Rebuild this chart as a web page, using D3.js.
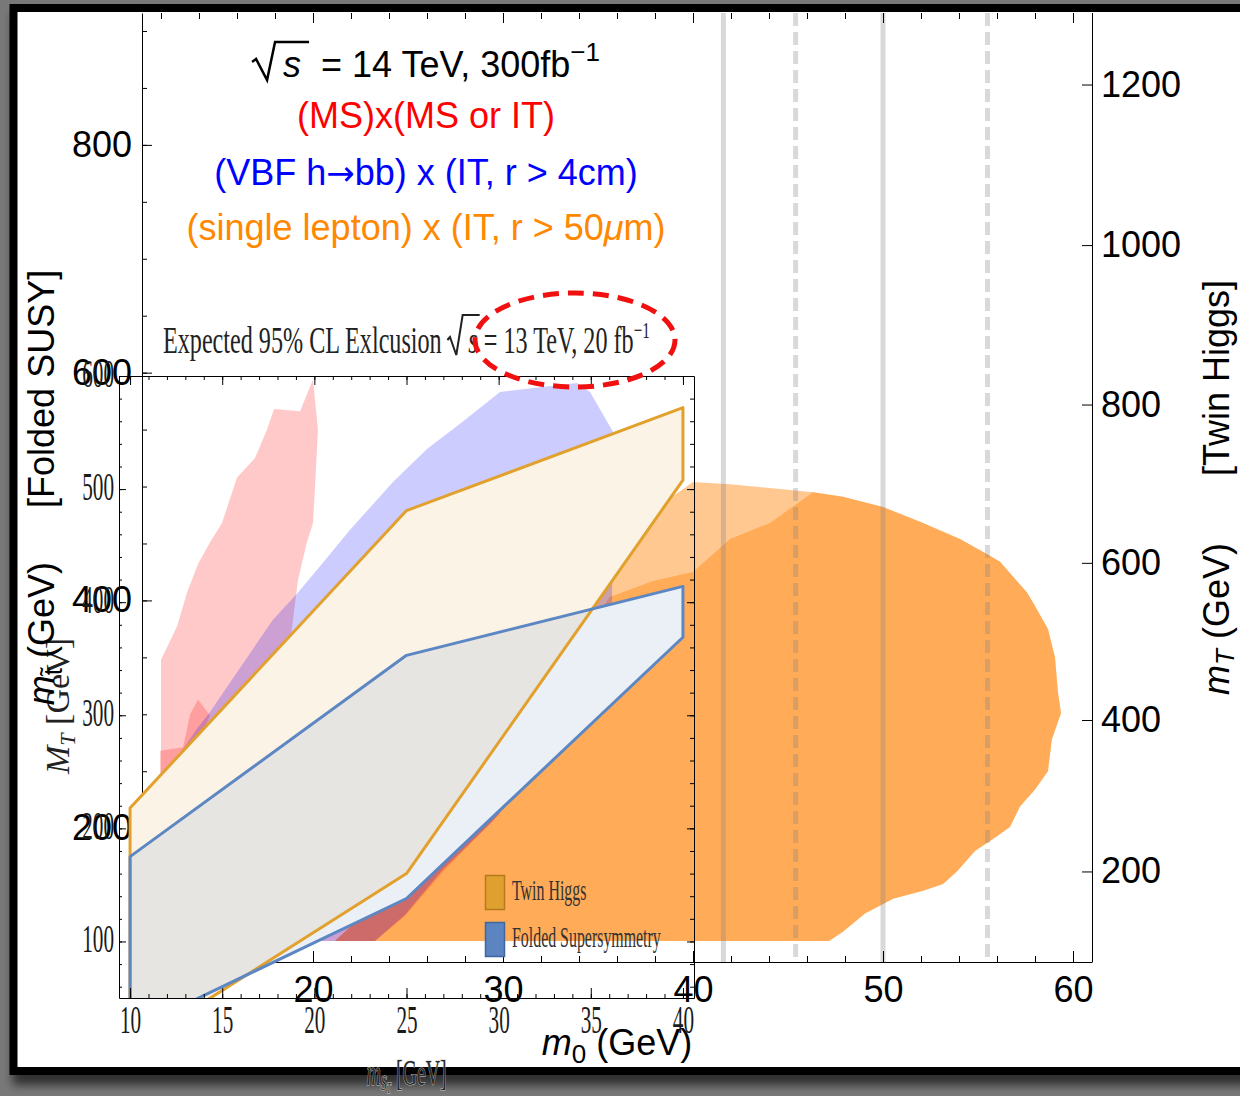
<!DOCTYPE html>
<html>
<head>
<meta charset="utf-8">
<script src="https://cdn.jsdelivr.net/npm/d3@7"></script>
<style>
  html, body { margin: 0; padding: 0; background: #787878; }
  svg { display: block; }
</style>
</head>
<body>
<svg id="chart" width="1240" height="1096"></svg>
<script>
// ---------------- data ----------------
// main panel: m0 (GeV) against the folded-stop mass (left) / twin-top mass (right)
const m0Ticks    = [20, 30, 40, 50, 60];
const stopTicks  = [200, 400, 600, 800];
const twinTicks  = [200, 400, 600, 800, 1000, 1200];
// folded-stop mass that lines up with each twin-top tick
const twinAsStop = [162, 295, 433, 572, 712, 853];

// (MS)x(MS or IT) reach, [m0, m_stop]
const msRegion = [[12.0,101],[12.0,348],[12.84,377],[13.37,407],[13.95,432],[14.58,451],[15.21,468],
  [16.0,508],[16.95,525],[17.58,550],[17.95,568],[19.32,566],[20.0,594],[20.26,550],[20.11,500],
  [20.0,468],[19.68,451],[19.21,418],[18.95,383],[18.68,348],[19.32,313],[25.63,261],[29.84,213],
  [26.84,162],[24.84,123],[23.26,101]];
const msCore = [[11.95,268],[13.16,271],[13.53,300],[13.95,313],[14.58,299],[14.16,283],[13.53,256],[11.95,234]];

// (VBF h->bb) x (IT, r > 4cm) reach
const vbfRegion = [[12.21,247],[13.89,287],[14.58,302],[16.0,337],[17.89,383],[19.21,407],[20.37,430],
  [21.95,462],[24.21,504],[26.0,533],[27.89,557],[29.84,583],[33.89,591],[34.58,583],[35.79,548],
  [35.74,401],[35.11,313],[33.0,268],[30.89,233],[29.32,204],[26.84,164],[24.84,124],[23.26,101],[12.21,101]];

// (single lepton) x (IT, r > 50um) reach: outer contour and inner core
const leptonRegion = [[21.16,101],[47.16,101],[47.89,109],[49.05,125],[50.53,138],[52.11,145],[53.16,151],
  [53.89,162],[54.84,180],[56.0,193],[56.68,201],[57.21,219],[58.0,234],[58.68,250],[58.89,278],[59.16,291],
  [59.37,301],[59.21,319],[59.05,350],[58.68,375],[58.0,395],[57.58,407],[56.16,434],[55.53,440],[54.05,454],
  [51.95,469],[50.0,482],[47.89,491],[46.32,495],[43.89,499],[41.95,502],[40.0,504],[37.21,471],[35.11,427],
  [33.0,366],[30.89,296],[27.21,208],[23.53,138]];
const leptonCore = [[21.16,101],[47.16,101],[47.89,109],[49.05,125],[50.53,138],[52.11,145],[53.16,151],
  [53.89,162],[54.84,180],[56.0,193],[56.68,201],[57.21,219],[58.0,234],[58.68,250],[58.89,278],[59.16,291],
  [59.37,301],[59.21,319],[59.05,350],[58.68,375],[58.0,395],[57.58,407],[56.16,434],[55.53,440],[54.05,454],
  [51.95,469],[50.0,482],[47.89,491],[46.32,495],[44.05,468],[41.95,454],[40.0,425],[37.89,417],[35.63,403],
  [34.05,366],[30.89,296],[27.21,208],[23.53,138]];

// vertical reference masses (GeV)
const refLines  = [41.6, 45.4, 50.0, 55.5];
const refDashed = [false, true, false, true];

// 13 TeV, 20 fb^-1 panel: m_S (GeV) against M_T (GeV)
const insetXTicks = [10, 15, 20, 25, 30, 35, 40];
const insetYTicks = [100, 200, 300, 400, 500, 600];
const twinHiggs13  = [[10,218],[25,481],[40,572],[40,508],[25,160],[10,5]];
const foldedSusy13 = [[10,175],[25,353],[40,414],[40,369],[25,138],[10,21]];
const legendLabels = ["Twin Higgs", "Folded Supersymmetry"];

// ---------------- setup ----------------
const SANS  = "'Liberation Sans', Arial, Helvetica, sans-serif";
const SERIF = "'Liberation Serif', 'Times New Roman', serif";
const W = 1240, H = 1096;
const svg = d3.select("#chart");
const defs = svg.append("defs");

const shadow = defs.append("filter").attr("id", "frameShadow")
  .attr("x", "-5%").attr("y", "-5%").attr("width", "115%").attr("height", "115%");
shadow.append("feDropShadow").attr("dx", 3).attr("dy", 10).attr("stdDeviation", 5)
  .attr("flood-color", "#000").attr("flood-opacity", 0.6);

svg.append("rect").attr("width", W).attr("height", H).attr("fill", "#787878");
svg.append("rect").attr("x", 13.5).attr("y", 8).attr("width", 1320).attr("height", 1063)
  .attr("fill", "#fff").attr("stroke", "#000").attr("stroke-width", 8)
  .attr("filter", "url(#frameShadow)");

// ---------------- main panel ----------------
const M = { left: 142, right: 1092, top: 13, bottom: 962 };
const x  = d3.scaleLinear().domain([11, 61]).range([M.left, M.right]);
const yL = d3.scaleLinear().domain([82.5, 915.8]).range([M.bottom, M.top]);
const yR = d3.scaleLinear().domain(twinTicks).range(twinAsStop.map(v => yL(v)));
const intFmt = d3.format("d");

defs.append("clipPath").attr("id", "mainClip").append("rect")
  .attr("x", M.left).attr("y", M.top).attr("width", M.right - M.left).attr("height", M.bottom - M.top);

const gMain = svg.append("g");
const gReg = gMain.append("g").attr("clip-path", "url(#mainClip)");
const shape = d3.line().x(d => x(d[0])).y(d => yL(d[1])).curve(d3.curveLinearClosed);

const fills = [
  { d: leptonRegion, c: "rgb(255,138,21)", o: 0.47 },
  { d: leptonCore,   c: "rgb(255,138,21)", o: 0.47 },
  { d: msRegion,     c: "#ff0000", o: 0.21 },
  { d: msCore,       c: "#ff0000", o: 0.21 },
  { d: vbfRegion,    c: "#0000ff", o: 0.2 }
];
gReg.selectAll("path.region").data(fills).join("path").attr("class", "region")
  .attr("d", f => shape(f.d)).attr("fill", f => f.c).attr("fill-opacity", f => f.o);

gReg.selectAll("line.ref").data(refLines).join("line").attr("class", "ref")
  .attr("x1", d => x(d)).attr("x2", d => x(d)).attr("y1", M.top).attr("y2", M.bottom)
  .attr("stroke", "#808080").attr("stroke-opacity", 0.3).attr("stroke-width", 5)
  .attr("stroke-dasharray", (d, i) => refDashed[i] ? "13,6" : null);

function ink(g) {
  g.selectAll(".domain").attr("stroke", "#000");
  g.selectAll(".tick line").attr("stroke", "#000");
}
function bare(g) { g.select(".domain").remove(); }
function labelFont(g, fam, size) {
  g.attr("font-family", fam).attr("font-size", size);
  g.selectAll("text").attr("fill", "#000");
}

const m0Minor = d3.range(12, 61, 2);
const stopMinor = d3.range(100, 901, 50);

// left axis (folded stop)
gMain.append("g").attr("transform", `translate(${M.left},0)`)
  .call(d3.axisRight(yL).tickValues(stopMinor).tickSize(5).tickSizeOuter(0).tickFormat("")).call(ink);
gMain.append("g").attr("transform", `translate(${M.left},0)`)
  .call(d3.axisRight(yL).tickValues(stopTicks).tickSize(10).tickFormat("")).call(bare).call(ink);
gMain.append("g").attr("transform", `translate(${M.left},0)`)
  .call(d3.axisLeft(yL).tickValues(stopTicks).tickSize(0).tickPadding(10).tickFormat(intFmt)).call(bare)
  .call(g => labelFont(g, SANS, 36));

// bottom axis (m0)
gMain.append("g").attr("transform", `translate(0,${M.bottom})`)
  .call(d3.axisTop(x).tickValues(m0Minor).tickSize(6).tickSizeOuter(0).tickFormat("")).call(ink);
gMain.append("g").attr("transform", `translate(0,${M.bottom})`)
  .call(d3.axisTop(x).tickValues(m0Ticks).tickSize(11).tickFormat("")).call(bare).call(ink);

// top ticks
gMain.append("g").attr("transform", `translate(0,${M.top})`)
  .call(d3.axisBottom(x).tickValues(m0Minor).tickSize(6).tickFormat("")).call(bare).call(ink);
gMain.append("g").attr("transform", `translate(0,${M.top})`)
  .call(d3.axisBottom(x).tickValues(m0Ticks).tickSize(10).tickFormat("")).call(bare).call(ink);

// right axis (twin top)
const gRight = gMain.append("g").attr("transform", `translate(${M.right},0)`)
  .call(d3.axisLeft(yR).tickValues(twinTicks).tickSize(10).tickSizeOuter(0).tickFormat("")).call(ink);
gRight.select(".domain").attr("d", `M0.5,${M.bottom}V${M.top}`);
gMain.append("g").attr("transform", `translate(${M.right},0)`)
  .call(d3.axisRight(yR).tickValues(twinTicks).tickSize(0).tickPadding(9).tickFormat(intFmt)).call(bare)
  .call(g => labelFont(g, SANS, 36));

// ---------------- 13 TeV panel ----------------
const I = { left: 119, right: 694, top: 376, bottom: 998 };
const xi = d3.scaleLinear().domain([9.4, 40.6]).range([I.left, I.right]);
const yi = d3.scaleLinear().domain([50, 600]).range([I.bottom, I.top]);
const SQ = 0.53;   // horizontal squeeze of the panel's lettering

defs.append("clipPath").attr("id", "insetClip").append("rect")
  .attr("x", I.left).attr("y", I.top).attr("width", I.right - I.left).attr("height", I.bottom - I.top);

const gIn = svg.append("g");
const gPoly = gIn.append("g").attr("clip-path", "url(#insetClip)");
const ishape = d3.line().x(d => xi(d[0])).y(d => yi(d[1])).curve(d3.curveLinearClosed);
const polys = [
  { d: twinHiggs13,  c: "#e0a030", s: "#e2a02c" },
  { d: foldedSusy13, c: "#5b84c0", s: "#5d87c3" }
];
gPoly.selectAll("path.base").data(polys).join("path").attr("class", "base")
  .attr("d", p => ishape(p.d)).attr("fill", "#fff");
gPoly.selectAll("path.fill").data(polys).join("path").attr("class", "fill")
  .attr("d", p => ishape(p.d)).attr("fill", p => p.c).attr("fill-opacity", 0.12);
gPoly.selectAll("path.edge").data(polys).join("path").attr("class", "edge")
  .attr("d", p => ishape(p.d)).attr("fill", "none").attr("stroke", p => p.s)
  .attr("stroke-width", 3).attr("stroke-linejoin", "round");

const xiMinor = d3.range(10, 41, 1);
const yiMinor = d3.range(60, 601, 20);

gIn.append("g").attr("transform", `translate(0,${I.bottom})`)
  .call(d3.axisTop(xi).tickValues(xiMinor).tickSize(4).tickSizeOuter(0).tickFormat("")).call(ink);
gIn.append("g").attr("transform", `translate(0,${I.bottom})`)
  .call(d3.axisTop(xi).tickValues(insetXTicks).tickSize(10).tickFormat("")).call(bare).call(ink);
gIn.append("g").attr("transform", `translate(0,${I.top})`)
  .call(d3.axisBottom(xi).tickValues(xiMinor).tickSize(4).tickSizeOuter(0).tickFormat("")).call(ink);
gIn.append("g").attr("transform", `translate(0,${I.top})`)
  .call(d3.axisBottom(xi).tickValues(insetXTicks).tickSize(9).tickFormat("")).call(bare).call(ink);
gIn.append("g").attr("transform", `translate(${I.left},0)`)
  .call(d3.axisRight(yi).tickValues(yiMinor).tickSize(3).tickSizeOuter(0).tickFormat("")).call(ink);
gIn.append("g").attr("transform", `translate(${I.left},0)`)
  .call(d3.axisRight(yi).tickValues(insetYTicks).tickSize(7).tickFormat("")).call(bare).call(ink);
gIn.append("g").attr("transform", `translate(${I.right},0)`)
  .call(d3.axisLeft(yi).tickValues(yiMinor).tickSize(4).tickSizeOuter(0).tickFormat("")).call(ink);
gIn.append("g").attr("transform", `translate(${I.right},0)`)
  .call(d3.axisLeft(yi).tickValues(insetYTicks).tickSize(7).tickFormat("")).call(bare).call(ink);

// serif tick labels of the panel
gIn.append("g").attr("transform", `translate(0,${I.bottom})`)
  .call(d3.axisBottom(xi).tickValues(insetXTicks).tickSize(0).tickPadding(7)).call(bare)
  .call(g => {
    labelFont(g, SERIF, 40);
    g.selectAll("text").attr("fill", "#1a1a1a").attr("transform", `scale(${SQ},1)`);
  });
gIn.append("g").attr("transform", `translate(${I.left},0)`)
  .call(d3.axisLeft(yi).tickValues(insetYTicks).tickSize(0).tickPadding(5)).call(bare)
  .call(g => {
    labelFont(g, SERIF, 40);
    g.selectAll("text").attr("fill", "#1a1a1a").attr("x", -5 / SQ).attr("dy", "0.26em")
      .attr("transform", `scale(${SQ},1)`);
  });

// legend
const legendColors = [["#e0a030", "#b47a1c"], ["#5b84c0", "#3f679e"]];
const leg = gIn.append("g").attr("transform", "translate(485,875)");
const li = leg.selectAll("g").data(legendLabels).join("g").attr("transform", (d, i) => `translate(0,${i * 47})`);
li.append("rect").attr("x", 0.5).attr("y", 0.5).attr("width", 19).attr("height", 34)
  .attr("fill", (d, i) => legendColors[i][0]).attr("stroke", (d, i) => legendColors[i][1]).attr("stroke-width", 1.5);
li.append("text").attr("x", 27 / SQ).attr("y", 25).attr("transform", `scale(${SQ},1)`)
  .attr("font-family", SERIF).attr("font-size", 30).attr("fill", "#333").text(d => d);

// panel title
const tg = gIn.append("g");
const tt = tg.append("text").attr("font-family", SERIF).attr("font-size", 38).attr("fill", "#222");
const lead = "Expected 95% CL Exlcusion";
tt.append("tspan").text(lead);
tt.append("tspan").attr("dx", 42).attr("font-style", "italic").text("s");
tt.append("tspan").text(" = 13 TeV, 20 fb");
tt.append("tspan").attr("font-size", 24).attr("dy", -15).text("\u22121");
{
  const bb = tt.node().getBBox();
  const k = 487 / bb.width;
  const cx = (I.left + I.right) / 2;
  tg.attr("transform", `translate(${cx - k * (bb.x + bb.width / 2)},353) scale(${k},1)`);
  const s0 = tt.node().getStartPositionOfChar(lead.length).x;
  const s1 = tt.node().getEndPositionOfChar(lead.length).x;
  tg.append("path")
    .attr("d", `M${s0 - 33},-13 L${s0 - 29},-16 L${s0 - 19},2 L${s0 - 9},-38 H${s1 + 3}`)
    .attr("fill", "none").attr("stroke", "#222").attr("stroke-width", 2)
    .attr("vector-effect", "non-scaling-stroke");
}

// highlight around the collider setting
gIn.append("ellipse").attr("cx", 575).attr("cy", 340).attr("rx", 100).attr("ry", 47)
  .attr("fill", "none").attr("stroke", "#f01010").attr("stroke-width", 5).attr("stroke-dasharray", "16,9");

// panel y title
const iyl = gIn.append("text").attr("transform", `translate(69,706) rotate(-90)`)
  .attr("text-anchor", "middle").attr("font-family", SERIF).attr("font-size", 34).attr("fill", "#222");
iyl.append("tspan").attr("font-style", "italic").text("M");
iyl.append("tspan").attr("font-style", "italic").attr("font-size", 22).attr("dy", 6).text("T");
iyl.append("tspan").attr("dy", -6).text(" [GeV]");

// main m0 tick labels
gMain.append("g").attr("transform", `translate(0,${M.bottom})`)
  .call(d3.axisBottom(x).tickValues(m0Ticks).tickSize(0).tickPadding(14)).call(bare)
  .call(g => labelFont(g, SANS, 36));

// ---------------- titles ----------------
const xl = svg.append("text").attr("x", (M.left + M.right) / 2).attr("y", 1055)
  .attr("text-anchor", "middle").attr("font-family", SANS).attr("font-size", 36).attr("fill", "#000");
xl.append("tspan").attr("font-style", "italic").text("m");
xl.append("tspan").attr("font-size", 26).attr("dy", 8).text("0");
xl.append("tspan").attr("font-size", 36).attr("dy", -8).text(" (GeV)");

const midY = (M.top + M.bottom) / 2;
const ylL = svg.append("text").attr("transform", `translate(54,${midY}) rotate(-90)`)
  .attr("text-anchor", "middle").attr("font-family", SANS).attr("font-size", 36).attr("fill", "#000");
ylL.append("tspan").attr("font-style", "italic").text("m");
ylL.append("tspan").attr("font-size", 26).attr("dy", 8).text("t\u0303");
ylL.append("tspan").attr("dy", -8).text(" (GeV)");
ylL.append("tspan").attr("dx", 54).text("[Folded SUSY]");

const ylR = svg.append("text").attr("transform", `translate(1229,${midY}) rotate(-90)`)
  .attr("text-anchor", "middle").attr("font-family", SANS).attr("font-size", 36).attr("fill", "#000");
ylR.append("tspan").attr("font-style", "italic").text("m");
ylR.append("tspan").attr("font-style", "italic").attr("font-size", 26).attr("dy", 5).text("T");
ylR.append("tspan").attr("dy", -5).text(" (GeV)");
ylR.append("tspan").attr("dx", 67).text("[Twin Higgs]");

// header block
const hx = 426;
const header = svg.append("g").attr("font-family", SANS).attr("font-size", 36);
{
  const h1 = header.append("text").attr("fill", "#000");
  h1.append("tspan").attr("dx", 31).attr("font-style", "italic").text("s");
  h1.append("tspan").text("  = 14 TeV, 300fb");
  h1.append("tspan").attr("font-size", 26).attr("dy", -16).text("\u22121");
  h1.attr("xml:space", "preserve").style("white-space", "pre");
  const bb = h1.node().getBBox();
  const tr = `translate(${hx - (bb.x + bb.width) / 2},77)`;
  h1.attr("transform", tr);
  const s0 = h1.node().getStartPositionOfChar(0).x;
  const s1 = h1.node().getEndPositionOfChar(0).x;
  header.append("path").attr("transform", tr)
    .attr("d", `M${s0 - 31},-15 L${s0 - 27},-18 L${s0 - 16},3 L${s0 - 8},-35 H${s1 + 8}`)
    .attr("fill", "none").attr("stroke", "#000").attr("stroke-width", 2.5).attr("stroke-linejoin", "miter");
}
header.append("text").attr("x", hx).attr("y", 128).attr("text-anchor", "middle")
  .attr("fill", "#ff0000").text("(MS)x(MS or IT)");
{
  const h3 = header.append("text").attr("x", hx).attr("y", 185).attr("text-anchor", "middle").attr("fill", "#0000ff");
  h3.append("tspan").text("(VBF h");
  h3.append("tspan").attr("font-family", "'DejaVu Sans', sans-serif").attr("font-size", 34).text("\u2192");
  h3.append("tspan").text("bb) x (IT, r > 4cm)");
}
{
  const h4 = header.append("text").attr("x", hx).attr("y", 240).attr("text-anchor", "middle").attr("fill", "#ff8800");
  h4.append("tspan").text("(single lepton) x (IT, r > 50");
  h4.append("tspan").attr("font-style", "italic").text("\u03bc");
  h4.append("tspan").text("m)");
}

// panel m_S axis title, sitting on the lower frame edge
const ixl = svg.append("text").attr("transform", `translate(${(I.left + I.right) / 2},1085) scale(0.55,1)`)
  .attr("text-anchor", "middle").attr("font-family", SERIF).attr("font-size", 36)
  .attr("fill", "#2a2a2a").attr("stroke", "#cfcfcf").attr("stroke-width", 1).attr("paint-order", "stroke");
ixl.append("tspan").attr("font-style", "italic").text("m");
ixl.append("tspan").attr("font-style", "italic").attr("font-size", 22).attr("dy", 5).text("S");
ixl.append("tspan").attr("font-style", "italic").attr("font-size", 14).attr("dy", 3).text("T");
ixl.append("tspan").attr("font-size", 36).attr("dy", -8).text(" [GeV]");
</script>
</body>
</html>
